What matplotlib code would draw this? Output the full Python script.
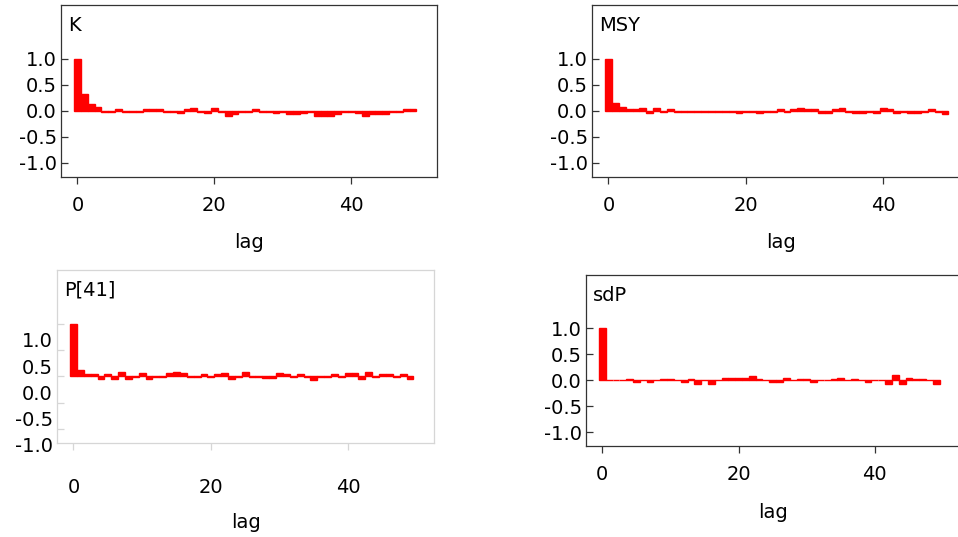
import matplotlib
matplotlib.use("Agg")
import matplotlib.pyplot as plt
from matplotlib.transforms import ScaledTranslation

plt.rcParams['font.family'] = ['DejaVu Sans']

# autocorrelation values, lags 0..49
lags = list(range(50))

acf_K = [1.0, 0.33, 0.13, 0.07, -0.02, -0.02, 0.04, -0.02, -0.02, -0.02,
         0.03, 0.03, 0.03, -0.02, -0.02, -0.04, 0.04, 0.06, -0.02, -0.04,
         0.06, -0.02, -0.10, -0.06, -0.02, -0.02, 0.04, -0.02, -0.02, -0.04,
         -0.02, -0.06, -0.06, -0.04, -0.02, -0.10, -0.10, -0.10, -0.06, -0.02,
         -0.02, -0.04, -0.10, -0.06, -0.06, -0.06, -0.02, -0.02, 0.04, 0.04]

acf_MSY = [1.0, 0.15, 0.07, 0.04, 0.04, 0.06, -0.04, 0.06, -0.02, 0.04,
           -0.02, -0.03, -0.02, -0.03, -0.02, -0.02, -0.03, -0.02, -0.02, -0.05,
           -0.02, -0.03, -0.05, -0.02, -0.03, 0.04, -0.02, 0.03, 0.05, 0.03,
           0.03, -0.04, -0.04, 0.03, 0.05, -0.02, -0.05, -0.05, -0.03, -0.05,
           0.05, 0.03, -0.05, -0.03, -0.05, -0.05, -0.02, 0.04, -0.02, -0.06]

acf_P41 = [1.0, 0.12, 0.05, 0.05, -0.04, 0.05, -0.04, 0.09, -0.04, -0.02,
           0.07, -0.04, -0.02, -0.02, 0.07, 0.09, 0.07, -0.02, -0.02, 0.05,
           -0.02, 0.05, 0.07, -0.04, -0.02, 0.09, -0.02, -0.02, -0.03, -0.03,
           0.07, 0.05, -0.02, 0.05, -0.02, -0.06, -0.02, -0.02, 0.05, -0.02,
           0.07, 0.07, -0.04, 0.09, -0.02, 0.05, 0.05, -0.02, 0.05, -0.04]

acf_sdP = [1.0, 0.0, 0.0, 0.0, 0.03, -0.04, 0.01, -0.03, 0.01, 0.03,
           0.03, 0.01, -0.03, 0.03, -0.08, 0.01, -0.08, 0.01, 0.04, 0.04,
           0.04, 0.04, 0.08, 0.03, 0.0, -0.03, -0.03, 0.04, 0.0, 0.03,
           0.03, -0.03, 0.0, 0.0, 0.03, 0.05, 0.01, 0.03, 0.01, -0.03,
           0.0, 0.0, -0.07, 0.10, -0.07, 0.05, 0.03, 0.03, 0.01, -0.07]

names = ['K', 'MSY', 'P[41]', 'sdP']
series = [acf_K, acf_MSY, acf_P41, acf_sdP]
y_ticks = [-1.0, -0.5, 0.0, 0.5, 1.0]
y_ticklabels = ['-1.0', '-0.5', '0.0', '0.5', '1.0']
x_ticks = [0, 20, 40]

W, H = 958, 537
fig = plt.figure(figsize=(W / 100, H / 100), dpi=100)


def px_axes(left, top, right, bottom):
    """add axes from pixel box (origin top left)"""
    return fig.add_axes([left / W, 1 - bottom / H, (right - left) / W, (bottom - top) / H])


# frame boxes in pixels: left, top, right, bottom
frames = [(61, 5, 437, 177), (592, 5, 969, 177),
          (57, 270, 434, 443), (586, 275, 960, 446)]

FS = 14
for i, (name, vals) in enumerate(zip(names, series)):
    ax = px_axes(*frames[i])
    faded = (name == 'P[41]')
    fc = '#d6d6d6' if faded else '#333333'

    ax.bar(lags, vals, width=1.0, color='#ff0000', edgecolor='#ff0000', linewidth=1.0)
    ax.set_xlim(-2.4, 52.5)
    ax.set_ylim(-1.27, 2.03)
    ax.set_yticks(y_ticks)
    ax.set_yticklabels(y_ticklabels)
    ax.set_xticks(x_ticks)

    for sp in ax.spines.values():
        sp.set_color(fc)
        sp.set_linewidth(0.9)

    ax.tick_params(axis='y', direction='in', length=5, width=0.9, color=fc,
                   pad=3.0, labelsize=FS, labelcolor='black')
    ax.tick_params(axis='x', direction='out', length=5, width=0.9, color=fc,
                   pad=9.0, labelsize=FS, labelcolor='black')
    ax.set_xlabel('lag', fontsize=FS, labelpad=11.0 if faded else 13.0)

    if faded:
        # labels of this panel sit lower than their ticks in the original
        shift = ScaledTranslation(0, -0.16, fig.dpi_scale_trans)
        for lbl in ax.get_yticklabels() + ax.get_xticklabels():
            lbl.set_transform(lbl.get_transform() + shift)

    ax.annotate(name, xy=(0, 1), xycoords='axes fraction', xytext=(7, -11),
                textcoords='offset pixels', ha='left', va='top', fontsize=FS)

fig.savefig('out.png', dpi=100)
